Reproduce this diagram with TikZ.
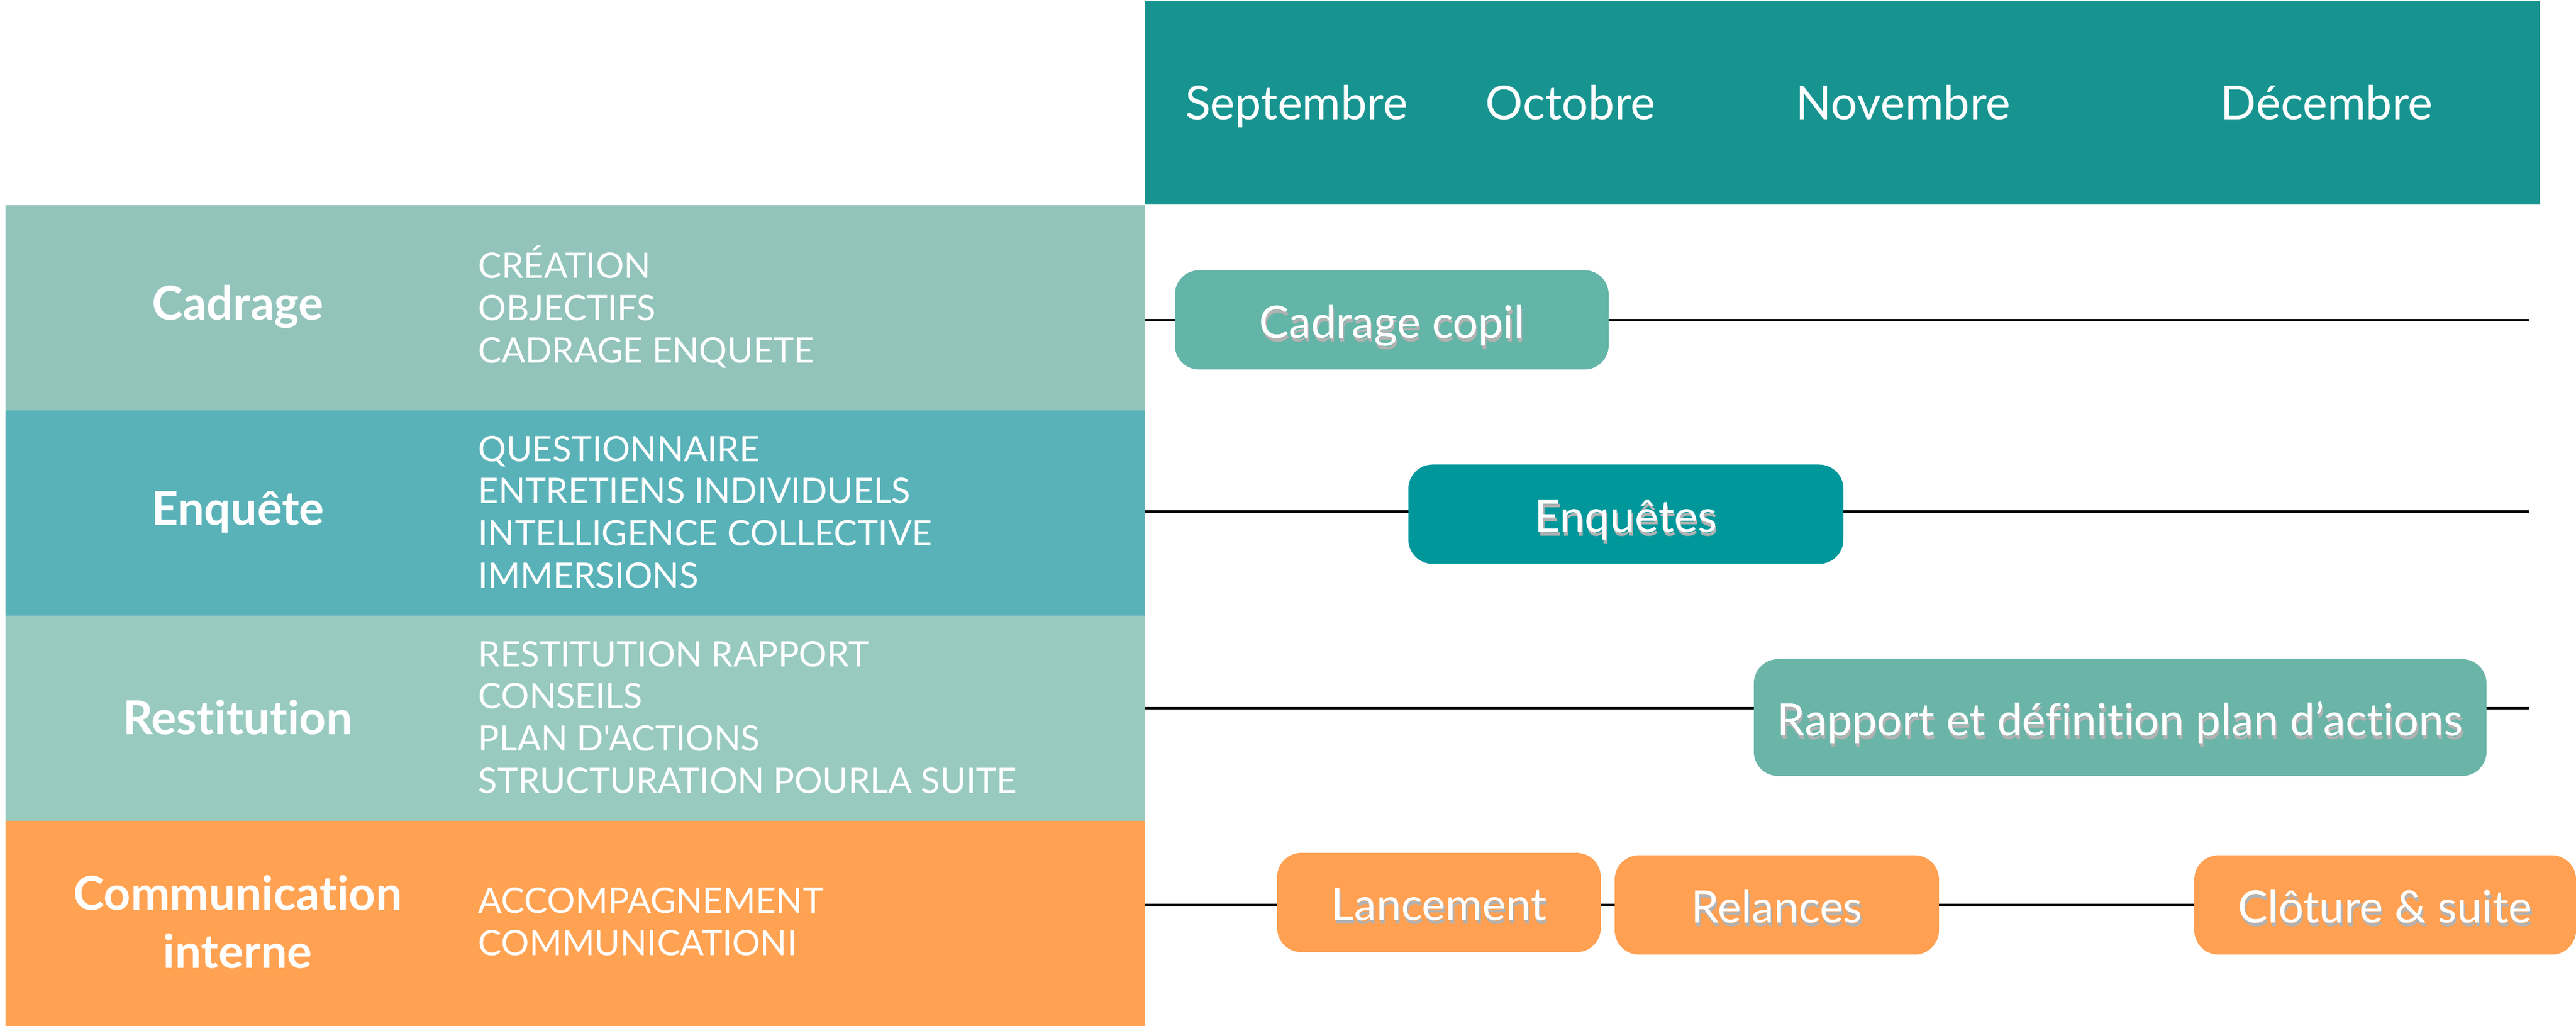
\documentclass[tikz,border=0pt]{standalone}
\usepackage{fontspec}
\newfontfamily\latofont{Lato}[Ligatures=NoCommon]

\definecolor{headteal}{HTML}{179490}
\definecolor{cadragebg}{HTML}{93C4BB}
\definecolor{enquetebg}{HTML}{5AB2B9}
\definecolor{restitbg}{HTML}{98CAC0}
\definecolor{commbg}{HTML}{FFA252}
\definecolor{copilfill}{HTML}{63B5A7}
\definecolor{enqfill}{HTML}{00979B}
\definecolor{rapportfill}{HTML}{6AB5A8}
\definecolor{orangefill}{HTML}{FFA052}

% white text with a soft shadow below it
\newcommand{\txtshadow}[1]{\rlap{\kern0.03em\raisebox{-0.08em}{\textcolor{black!30}{#1}}}#1}

\tikzset{
  rowband/.style={minimum width=18.84cm, minimum height=3.39cm, inner sep=0, anchor=north west},
  rowlabel/.style={text=white, font=\latofont\bfseries\fontsize{22}{27.3}\selectfont, align=center},
  rowitems/.style={text=white, font=\latofont\fontsize{16.5}{19.8}\selectfont, align=left, anchor=west, inner sep=0},
  month/.style={text=white, font=\latofont\fontsize{22}{26}\selectfont, anchor=base},
  taskbox/.style={rounded corners=0.4cm, text=white, inner sep=0, minimum height=1.64cm,
    text height=20pt, text depth=3pt, font=\latofont\fontsize{21}{25}\selectfont},
  timeline/.style={line width=1.1pt, black},
}

\begin{document}
\begin{tikzpicture}
  \useasboundingbox (0,0) rectangle (42.58,16.95);

  % header with the months
  \node[fill=headteal, minimum width=23.05cm, minimum height=3.375cm, inner sep=0,
    anchor=north west] (header) at (18.92,16.95) {};
  \begin{scope}[every node/.style={month}]
    \node (sept) at (21.43,14.97) {Septembre};
    \node (oct)  at (25.96,14.97) {Octobre};
    \node (nov)  at (31.46,14.97) {Novembre};
    \node (dec)  at (38.46,14.97) {Décembre};
  \end{scope}

  % left bands
  \begin{scope}[every node/.style={rowband}]
    \node[fill=cadragebg] (bandcad)  at (0.08,13.57) {};
    \node[fill=enquetebg] (bandenq)  at (0.08,10.18) {};
    \node[fill=restitbg]  (bandrest) at (0.08,6.79)  {};
    \node[fill=commbg]    (bandcomm) at (0.08,3.40)  {};
  \end{scope}

  \begin{scope}[every node/.style={rowlabel}]
    \node (labcad)  at (3.93,11.88) {Cadrage};
    \node (labenq)  at (3.93,8.49)  {Enquête};
    \node (labrest) at (3.93,5.10)  {Restitution};
    \node (labcomm) at (3.93,1.72)  {Communication\\interne};
  \end{scope}

  \begin{scope}[every node/.style={rowitems}]
    \node (itcad)  at (7.90,11.88) {CRÉATION\\OBJECTIFS\\CADRAGE ENQUETE};
    \node (itenq)  at (7.90,8.49)  {QUESTIONNAIRE\\ENTRETIENS INDIVIDUELS\\INTELLIGENCE COLLECTIVE\\IMMERSIONS};
    \node (itrest) at (7.90,5.10)  {RESTITUTION RAPPORT\\CONSEILS\\PLAN D'ACTIONS\\STRUCTURATION POURLA SUITE};
    \node (itcomm) at (7.90,1.72)  {ACCOMPAGNEMENT\\COMMUNICATIONI};
  \end{scope}

  % time lines
  \coordinate (s1) at (18.93,11.66); \coordinate (e1) at (41.80,11.66);
  \coordinate (s2) at (18.93,8.50);  \coordinate (e2) at (41.80,8.50);
  \coordinate (s3) at (18.93,5.25);  \coordinate (e3) at (41.80,5.25);
  \coordinate (s4) at (18.93,2.00);  \coordinate (e4) at (41.80,2.00);
  \foreach \i in {1,...,4}
    \draw[timeline] (s\i) -- (e\i);

  % tasks
  \node[taskbox, fill=copilfill, minimum width=7.17cm] (copil) at (23.005,11.665) {\txtshadow{Cadrage copil}};
  \node[taskbox, fill=enqfill, minimum width=7.19cm] (enquetes) at (26.875,8.455) {\txtshadow{Enquêtes}};
  \node[taskbox, fill=rapportfill, minimum width=12.11cm, minimum height=1.93cm] (rapport) at (35.045,5.095)
    {\txtshadow{Rapport et définition plan d’actions}};
  \node[taskbox, fill=orangefill, minimum width=5.35cm] (lancement) at (23.785,2.04) {\txtshadow{Lancement}};
  \node[taskbox, fill=orangefill, minimum width=5.36cm] (relances) at (29.37,2.00) {\txtshadow{Relances}};
  \node[taskbox, fill=orangefill, minimum width=6.31cm] (cloture) at (39.425,2.00) {\txtshadow{Clôture \& suite}};
\end{tikzpicture}
\end{document}
